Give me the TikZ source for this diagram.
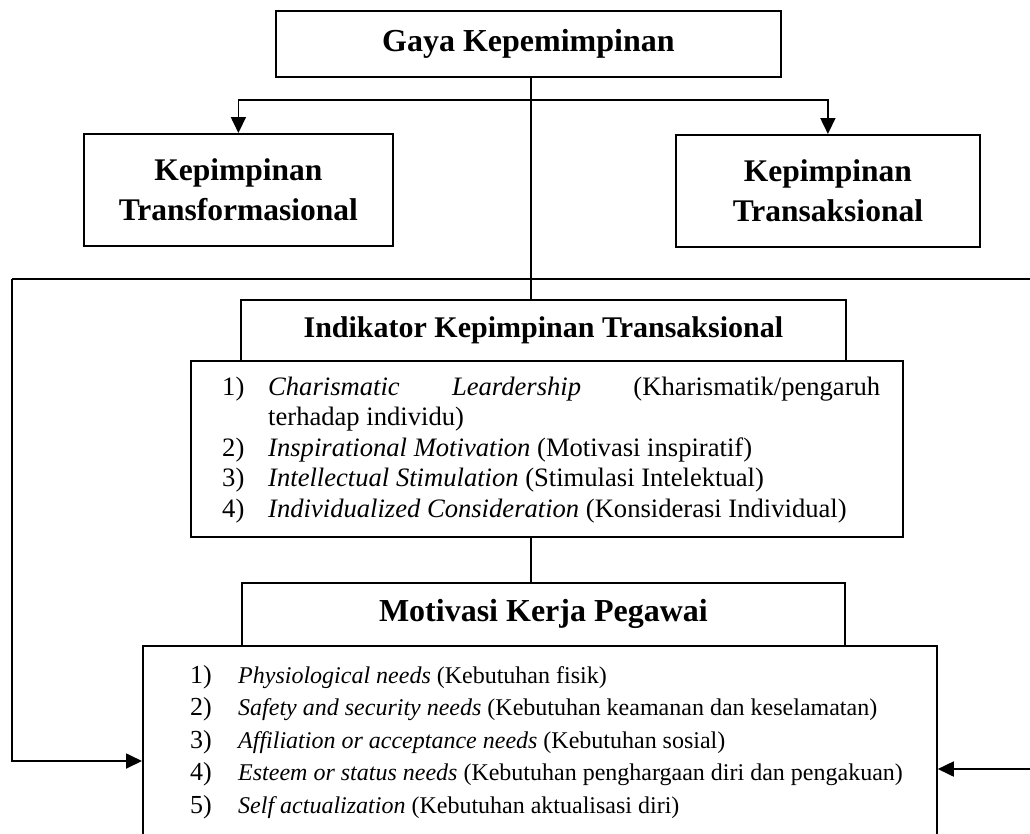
\documentclass[tikz,border=0pt]{standalone}
\usepackage{fontspec}
\setmainfont{Liberation Serif}
\usetikzlibrary{arrows.meta}
\begin{document}
\begin{tikzpicture}[x=1pt,y=-1pt,
  box/.style={draw, line width=1.8pt, inner sep=0pt, anchor=north west},
  conn/.style={line width=1.8pt},
  arr/.style={conn, -{Triangle[length=16pt,width=15pt]}},
  ttl/.style={font=\fontsize{32}{40}\selectfont\bfseries, align=center},
  sub/.style={font=\fontsize{31.5}{40}\selectfont\bfseries, align=center},
  itm/.style={anchor=base west, inner sep=0pt, font=\fontsize{26.6}{30}\selectfont},
  num/.style={anchor=base west, inner sep=0pt, font=\fontsize{26}{30}\selectfont},
  mtx/.style={anchor=base west, inner sep=0pt, font=\fontsize{24}{30}\selectfont},
  ]
\useasboundingbox (0,0) rectangle (1030,833);
\clip (0,0) rectangle (1030,833);

% boxes
\node[box, ttl, minimum width=505pt, minimum height=66pt] (gaya) at (275,10) {Gaya Kepemimpinan};
\node[box, sub, minimum width=309pt, minimum height=112pt] (tf) at (83,133) {Kepimpinan\\Transformasional};
\node[box, sub, minimum width=304pt, minimum height=112pt] (tk) at (675,134) {Kepimpinan\\Transaksional};
\node[box, font=\fontsize{30}{36}\selectfont\bfseries, minimum width=605pt, minimum height=61pt] (it) at (240,299) {Indikator Kepimpinan Transaksional};
\node[box, minimum width=712pt, minimum height=176pt] (ic) at (190,360) {};
\node[box, ttl, minimum width=603pt, minimum height=63pt] (mt) at (241,582) {Motivasi Kerja Pegawai};
\node[box, minimum width=794pt, minimum height=220pt] (mc) at (142,645) {};

% connectors
\coordinate (jt) at (531,100);
\draw[conn] (jt |- gaya.south) -- (jt |- it.north);
\draw[arr] (jt) -| (tf.north);
\draw[arr] (jt) -| (tk.north);
\coordinate (hl) at (12,279);
\coordinate (hr) at (1030,279);
\draw[conn] (hl) -- (hr);
\coordinate (la) at (12,761);
\draw[arr] (hl) -- (la) -- (la -| mc.west);
\coordinate (ra) at (1030,769);
\draw[arr] (ra) -- (ra -| mc.east);
\draw[conn] (jt |- ic.south) -- (jt |- mt.north);

% indicator list
\node[itm] (i1n) at (222,395) {1)};
\node[itm] (i1t) at (268,395) {\hbox to 612pt{\textit{Charismatic}\hfill\textit{Leardership}\hfill(Kharismatik/pengaruh}};
\node[itm] (i1b) at (268,425.5) {terhadap individu)};
\node[itm] (i2n) at (222,456) {2)};
\node[itm] (i2t) at (268,456) {\textit{Inspirational Motivation} (Motivasi inspiratif)};
\node[itm] (i3n) at (222,486.5) {3)};
\node[itm] (i3t) at (268,486.5) {\textit{Intellectual Stimulation} (Stimulasi Intelektual)};
\node[itm] (i4n) at (222,517) {4)};
\node[itm] (i4t) at (268,517) {\textit{Individualized Consideration} (Konsiderasi Individual)};

% motivation list
\node[num] (m1n) at (190,683) {1)};
\node[mtx] (m1t) at (238,683) {\textit{Physiological needs} (Kebutuhan fisik)};
\node[num] (m2n) at (190,715) {2)};
\node[mtx] (m2t) at (238,715) {\textit{Safety and security needs} (Kebutuhan keamanan dan keselamatan)};
\node[num] (m3n) at (190,748) {3)};
\node[mtx] (m3t) at (238,748) {\textit{Affiliation or acceptance needs} (Kebutuhan sosial)};
\node[num] (m4n) at (190,780) {4)};
\node[mtx] (m4t) at (238,780) {\textit{Esteem or status needs} (Kebutuhan penghargaan diri dan pengakuan)};
\node[num] (m5n) at (190,813) {5)};
\node[mtx] (m5t) at (238,813) {\textit{Self actualization} (Kebutuhan aktualisasi diri)};
\end{tikzpicture}
\end{document}
